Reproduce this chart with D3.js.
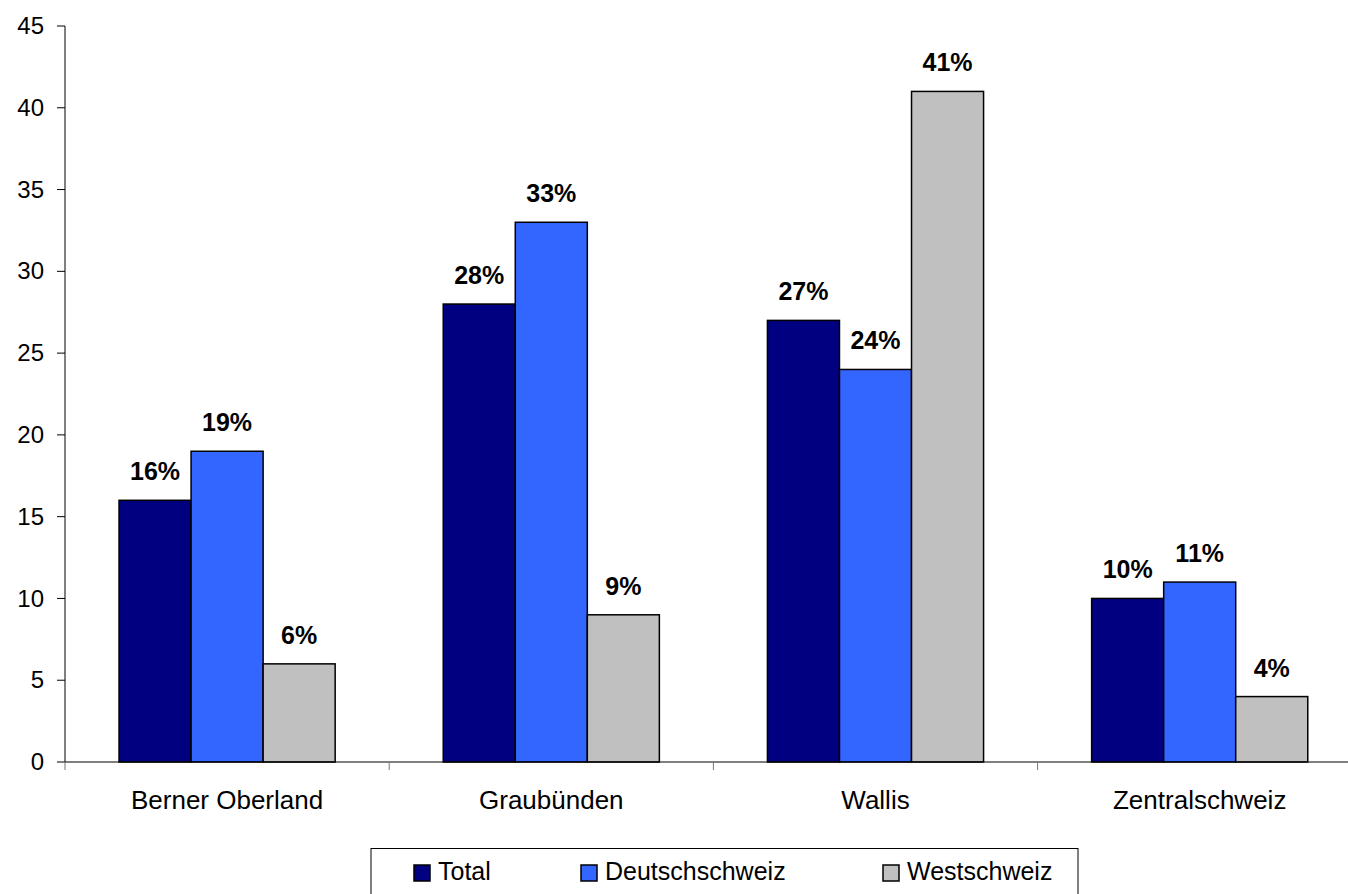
<!DOCTYPE html>
<html><head><meta charset="utf-8">
<script src="https://cdn.jsdelivr.net/npm/d3@7"></script>
<style>body{margin:0;background:#fff}svg{display:block}text{font-family:Arial,"Liberation Sans",sans-serif}</style>
</head><body>
<svg id="c" width="1348" height="894"></svg>
<script>
const categories = ["Berner Oberland", "Graubünden", "Wallis", "Zentralschweiz"];
const seriesNames = ["Total", "Deutschschweiz", "Westschweiz"];
const totalValues = [16, 28, 27, 10];
const deutschValues = [19, 33, 24, 11];
const westValues = [6, 9, 41, 4];
const yTicks = [0, 5, 10, 15, 20, 25, 30, 35, 40, 45];
const colors = ["#000080", "#3366FF", "#C0C0C0"];

const seriesValues = [totalValues, deutschValues, westValues];
const svg = d3.select("#c");
const x0 = 65, x1 = 65 + 4 * 324.2;
const y = d3.scaleLinear().domain([0, 45]).range([762, 26]);
const x = d3.scaleBand().domain(categories).range([x0, x1]).paddingInner(0).paddingOuter(0);
const xs = d3.scaleBand().domain(seriesNames).range([x.bandwidth() / 6, x.bandwidth() * 5 / 6]).padding(0);

// bars
const g = svg.append("g");
categories.forEach((c, ci) => {
  seriesNames.forEach((s, si) => {
    const v = seriesValues[si][ci];
    const bx = x(c) + xs(s);
    g.append("rect").attr("x", bx).attr("y", y(v)).attr("width", xs.bandwidth()).attr("height", y(0) - y(v))
      .attr("fill", colors[si]).attr("stroke", "#000").attr("stroke-width", 1.5);
    g.append("text").attr("x", bx + xs.bandwidth() / 2).attr("y", y(v) - 20)
      .attr("text-anchor", "middle").attr("font-size", 25).attr("font-weight", "bold").attr("fill", "#000")
      .text(v + "%");
  });
});

// y axis
const ya = svg.append("g");
ya.append("line").attr("x1", x0).attr("x2", x0).attr("y1", y(45)).attr("y2", y(0)).attr("stroke", "#000");
yTicks.forEach(t => {
  ya.append("line").attr("x1", x0 - 8).attr("x2", x0).attr("y1", y(t)).attr("y2", y(t)).attr("stroke", "#000");
  ya.append("text").attr("x", 44).attr("y", y(t)).attr("dy", "0.34em").attr("text-anchor", "end")
    .attr("font-size", 24).text(t);
});

// x axis
const xa = svg.append("g");
xa.append("line").attr("x1", x0).attr("x2", 1348).attr("y1", y(0)).attr("y2", y(0)).attr("stroke", "#000");
categories.forEach(c => {
  xa.append("line").attr("x1", x(c)).attr("x2", x(c)).attr("y1", y(0)).attr("y2", y(0) + 8).attr("stroke", "#777");
  xa.append("text").attr("x", x(c) + x.bandwidth() / 2).attr("y", 809).attr("text-anchor", "middle")
    .attr("font-size", 26).text(c);
});

// legend
const lg = svg.append("g");
lg.append("rect").attr("x", 371).attr("y", 848.5).attr("width", 707).attr("height", 60)
  .attr("fill", "#fff").attr("stroke", "#000").attr("stroke-width", 1);
const legX = [414, 581, 883];
seriesNames.forEach((s, i) => {
  lg.append("rect").attr("x", legX[i]).attr("y", 865).attr("width", 16).attr("height", 16)
    .attr("fill", colors[i]).attr("stroke", "#000").attr("stroke-width", 1.5);
  lg.append("text").attr("x", legX[i] + 24).attr("y", 880).attr("font-size", 25).text(s);
});
</script>
</body></html>
